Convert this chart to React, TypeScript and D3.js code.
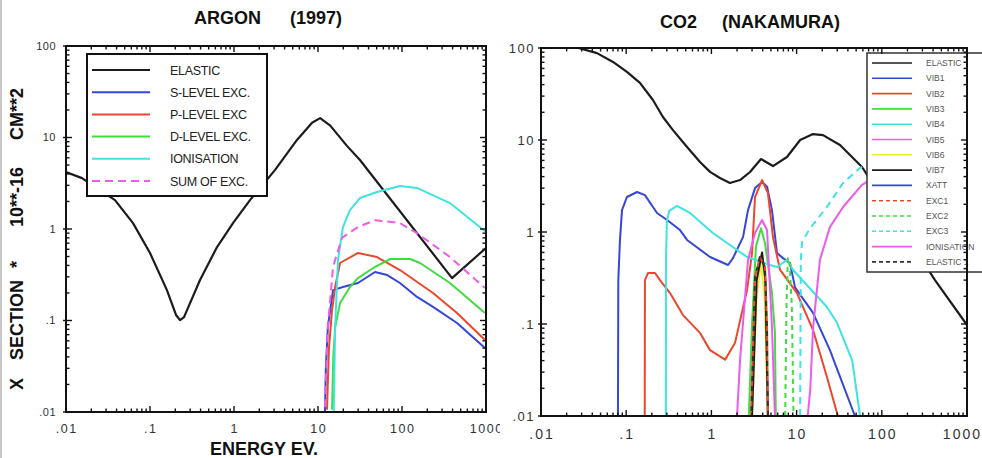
import React from 'react';
import * as d3 from 'd3';

type Pt = [number, number];

// ---------- Tick labels ----------
const xTickValues = [0.01, 0.1, 1, 10, 100, 1000];
const xTickLabels = ['.01', '.1', '1', '10', '100', '1000'];
const yTickValues = [0.01, 0.1, 1, 10, 100];
const yTickLabels = ['.01', '.1', '1', '10', '100'];

// ---------- ARGON (1997) ----------
const arElastic: Pt[] = [[0.01, 4.2], [0.0155, 3.6], [0.0383, 2.07], [0.0628, 1.16], [0.1, 0.547], [0.159, 0.215], [0.204, 0.115], [0.228, 0.101], [0.254, 0.109], [0.394, 0.277], [0.628, 0.635], [0.973, 1.16], [1.55, 2.07], [3.07, 4.4], [5.62, 9.4], [8.5, 14.5], [10.6, 16.3], [14, 13.5], [22.1, 8.1], [31.6, 5.68], [394, 0.291], [1000, 0.62]];
const arSLevel: Pt[] = [[12.1, 0.01], [12.4, 0.03], [13.1, 0.085], [15.1, 0.215], [19.8, 0.232], [29.9, 0.257], [47.8, 0.339], [66.7, 0.314], [94.6, 0.257], [151, 0.181], [234, 0.141], [452, 0.094], [972, 0.05]];
const arPLevel: Pt[] = [[12.8, 0.0106], [13.5, 0.05], [14.7, 0.13], [16.0, 0.232], [18.3, 0.425], [29.9, 0.547], [50.4, 0.494], [94.6, 0.356], [234, 0.2], [452, 0.121], [972, 0.0612]];
const arDLevel: Pt[] = [[14.7, 0.0106], [15.2, 0.04], [16.0, 0.085], [18.3, 0.155], [24.0, 0.232], [29.9, 0.291], [45.4, 0.375], [72.4, 0.47], [125, 0.47], [164, 0.425], [372, 0.257], [972, 0.121]];
const arIonisation: Pt[] = [[15.4, 0.01], [16.0, 0.085], [17.3, 0.458], [19.8, 1.05], [24.0, 1.61], [31.6, 2.18], [50.4, 2.54], [94.6, 2.95], [151, 2.81], [372, 1.92], [1000, 0.927]];
const arSumExc: Pt[] = [[12.1, 0.0113], [13.1, 0.085], [15.1, 0.385], [19.3, 0.8], [29.9, 1.05], [47.8, 1.25], [94.6, 1.16], [151, 0.9], [372, 0.494], [972, 0.226]];

// ---------- CO2 (NAKAMURA) ----------
const co2Elastic: Pt[] = [[0.0275, 100], [0.0454, 88], [0.07, 70.5], [0.102, 55], [0.145, 41.7], [0.206, 27.2], [0.27, 17.8], [0.354, 12.8], [0.518, 8.4], [0.735, 5.77], [0.964, 4.5], [1.26, 3.86], [1.65, 3.41], [2.17, 3.67], [2.84, 4.49], [3.82, 6.21], [5.28, 5.21], [7.71, 6.53], [11.0, 10.0], [15.6, 11.6], [20.4, 11.3], [32.3, 8.83], [58.6, 5.09], [421, 0.3], [1000, 0.0975]];
const co2Vib1: Pt[] = [[0.08, 0.01], [0.0808, 0.3], [0.0845, 0.82], [0.0893, 1.73], [0.102, 2.4], [0.134, 2.72], [0.166, 2.52], [0.23, 1.61], [0.302, 1.35], [0.428, 1.05], [0.518, 0.82], [0.964, 0.535], [1.57, 0.438], [1.79, 0.52], [2.35, 0.88], [2.69, 1.73], [3.25, 3.0], [3.93, 3.5], [4.5, 3.1], [5.14, 1.73], [5.89, 0.59], [6.92, 0.52], [8.37, 0.46], [9.58, 0.25], [15.6, 0.132], [24.6, 0.052], [48.4, 0.01]];
const co2Vib2: Pt[] = [[0.165, 0.01], [0.166, 0.3], [0.18, 0.358], [0.218, 0.358], [0.249, 0.3], [0.327, 0.217], [0.464, 0.125], [0.735, 0.08], [0.964, 0.052], [1.45, 0.041], [1.89, 0.062], [2.62, 0.234], [3.0, 0.59], [3.25, 2.4], [3.93, 3.67], [4.61, 2.65], [5.28, 0.88], [6.38, 0.39], [10.1, 0.217], [15.6, 0.086], [22.7, 0.0265], [30.5, 0.01]];
const co2Vib3: Pt[] = [[2.75, 0.01], [3.0, 0.1], [3.33, 0.69], [3.82, 1.1], [4.26, 0.76], [5.14, 0.217], [5.57, 0.08], [5.7, 0.01]];
const co2Vib4: Pt[] = [[0.292, 0.01], [0.293, 0.5], [0.3, 1.3], [0.32, 1.7], [0.394, 1.92], [0.561, 1.61], [1.04, 0.975], [2.62, 0.535], [4.88, 0.438], [5.89, 0.417], [7.71, 0.497], [9.08, 0.386], [22.7, 0.153], [29.8, 0.103], [45, 0.04], [55.5, 0.01]];
const co2Vib5: Pt[] = [[2.0, 0.01], [2.17, 0.0407], [2.69, 0.497], [3.25, 0.975], [3.93, 1.35], [4.5, 1.05], [5.14, 0.0927], [5.57, 0.01]];
const co2Vib6: Pt[] = [[3.0, 0.01], [3.4, 0.2], [3.82, 0.47], [4.2, 0.2], [4.6, 0.01]];
const co2Vib7: Pt[] = [[3.0, 0.01], [3.4, 0.3], [3.93, 0.6], [4.3, 0.3], [4.6, 0.01]];
const co2Xatt: Pt[] = [[3.8, 0.0012], [4.4, 0.0015], [5.2, 0.0003], [7.5, 0.0004], [8.2, 0.0045], [9.0, 0.0003]];
const co2Exc1: Pt[] = [[2.92, 0.01], [3.25, 0.324], [3.7, 0.535], [4.26, 0.417], [4.5, 0.0927], [4.61, 0.01]];
const co2Exc2: Pt[] = [[7.35, 0.01], [7.6, 0.15], [7.9, 0.52], [8.3, 0.45], [8.8, 0.15], [9.2, 0.01]];
const co2Exc3: Pt[] = [[11.0, 0.01], [11.2, 0.5], [11.6, 0.778], [14.4, 1.1], [22.7, 1.87], [35.1, 3.41], [55.5, 4.97], [70, 5.6]];
const co2Ionisation: Pt[] = [[13.5, 0.01], [14.5, 0.02], [15.6, 0.09], [18.8, 0.5], [24.6, 1.13], [35.1, 1.87], [58.6, 3.25], [70, 3.6]];
const co2Elastic1: Pt[] = [[2.92, 0.01], [3.25, 0.324], [3.7, 0.535], [4.26, 0.417], [4.5, 0.0927], [4.61, 0.01]];

const FONT = '"Liberation Sans", Arial, Helvetica, sans-serif';
const BLACK = '#1c1c1c';
const BLUE = '#3546d8';
const RED = '#e9482c';
const GREEN = '#40dc40';
const CYAN = '#40e2e2';
const MAGENTA = '#ec5cec';
const YELLOW = '#eeee2a';

interface Series {
  name: string;
  data: Pt[];
  color: string;
  dash?: string;
  offset?: number;
  width?: number;
}

const arSeries: Series[] = [
  { name: 'ELASTIC', data: arElastic, color: BLACK, width: 2.2 },
  { name: 'S-LEVEL EXC.', data: arSLevel, color: BLUE },
  { name: 'P-LEVEL EXC', data: arPLevel, color: RED },
  { name: 'D-LEVEL EXC.', data: arDLevel, color: GREEN },
  { name: 'IONISATION', data: arIonisation, color: CYAN },
  { name: 'SUM OF EXC.', data: arSumExc, color: MAGENTA, dash: '8,5' },
];

const co2Series: Series[] = [
  { name: 'ELASTIC', data: co2Elastic, color: BLACK, width: 2.2 },
  { name: 'VIB1', data: co2Vib1, color: BLUE },
  { name: 'VIB2', data: co2Vib2, color: RED },
  { name: 'VIB3', data: co2Vib3, color: GREEN },
  { name: 'VIB4', data: co2Vib4, color: CYAN },
  { name: 'VIB5', data: co2Vib5, color: MAGENTA },
  { name: 'VIB6', data: co2Vib6, color: YELLOW },
  { name: 'VIB7', data: co2Vib7, color: BLACK },
  { name: 'XATT', data: co2Xatt, color: BLUE },
  { name: 'EXC1', data: co2Exc1, color: RED, dash: '5,5' },
  { name: 'EXC2', data: co2Exc2, color: GREEN, dash: '5,4' },
  { name: 'EXC3', data: co2Exc3, color: CYAN, dash: '7,5' },
  { name: 'IONISATION', data: co2Ionisation, color: MAGENTA },
  { name: 'ELASTIC 1', data: co2Elastic1, color: '#333', dash: '5,5', offset: 5 },
];

interface PanelProps {
  id: string;
  left: number;
  right: number;
  top: number;
  bottom: number;
  series: Series[];
  yLabelFont: number;
  yLabelEnd: number;
  yLabelSpacing: number;
  xLabelFont: number;
  xLabelBase: number;
  xLabelSpacing: number;
  lastLabelEnd?: number;
  legend: React.ReactNode;
}

function Panel(p: PanelProps) {
  const x = d3.scaleLog().domain([0.01, 1000]).range([p.left, p.right]);
  const y = d3.scaleLog().domain([0.01, 100]).range([p.bottom, p.top]);
  const line = d3
    .line<Pt>()
    .x((d) => x(d[0]))
    .y((d) => y(Math.max(d[1], 1e-5)));

  const xt = x.ticks();
  const yt = y.ticks();
  const isMajor = (v: number) => Math.abs(Math.log10(v) - Math.round(Math.log10(v))) < 1e-6;
  const MAJ = 6;
  const MIN = 3.5;

  const tickLines: React.ReactNode[] = [];
  xt.forEach((v, i) => {
    const len = isMajor(v) ? MAJ : MIN;
    const px = x(v);
    tickLines.push(<line key={'xb' + i} x1={px} x2={px} y1={p.bottom} y2={p.bottom - len} />);
    tickLines.push(<line key={'xt' + i} x1={px} x2={px} y1={p.top} y2={p.top + len} />);
  });
  yt.forEach((v, i) => {
    const len = isMajor(v) ? MAJ : MIN;
    const py = y(v);
    tickLines.push(<line key={'yl' + i} x1={p.left - (isMajor(v) ? 3 : 0)} x2={p.left + len} y1={py} y2={py} />);
    tickLines.push(<line key={'yr' + i} x1={p.right} x2={p.right - len} y1={py} y2={py} />);
  });

  return (
    <g>
      <defs>
        <clipPath id={p.id + '-clip'}>
          <rect x={p.left} y={p.top} width={p.right - p.left} height={p.bottom - p.top} />
        </clipPath>
      </defs>
      <g clipPath={`url(#${p.id}-clip)`}>
        {p.series.map((s) => (
          <path
            key={s.name}
            d={line(s.data) || ''}
            fill="none"
            stroke={s.color}
            strokeWidth={s.width ?? 2}
            strokeDasharray={s.dash}
            strokeDashoffset={s.offset}
            strokeLinejoin="round"
          />
        ))}
      </g>
      {p.legend}
      <g stroke="#111" strokeWidth={1.4}>{tickLines}</g>
      <rect x={p.left} y={p.top} width={p.right - p.left} height={p.bottom - p.top} fill="none" stroke="#111" strokeWidth={2} />
      <g fontFamily={FONT} fill="#333">
        {yTickValues.map((v, i) => (
          <text key={'yl' + i} x={p.yLabelEnd} y={y(v) + p.yLabelFont * 0.36} fontSize={p.yLabelFont} textAnchor="end" letterSpacing={p.yLabelSpacing}>
            {yTickLabels[i]}
          </text>
        ))}
        {xTickValues.map((v, i) => {
          const last = i === xTickValues.length - 1 && p.lastLabelEnd !== undefined;
          return (
            <text
              key={'xl' + i}
              x={last ? (p.lastLabelEnd as number) : x(v) + p.xLabelSpacing / 2}
              y={p.xLabelBase}
              fontSize={p.xLabelFont}
              textAnchor={last ? 'end' : 'middle'}
              letterSpacing={p.xLabelSpacing}
            >
              {xTickLabels[i]}
            </text>
          );
        })}
      </g>
    </g>
  );
}

function LeftLegend() {
  const x0 = 87, y0 = 54, w = 180, h = 142;
  return (
    <g>
      <rect x={x0} y={y0} width={w} height={h} fill="#fff" stroke="#111" strokeWidth={2} />
      {arSeries.map((s, i) => {
        const cy = 70 + i * 22.2;
        return (
          <g key={s.name}>
            <line x1={92} x2={150} y1={cy} y2={cy} stroke={s.color} strokeWidth={2} strokeDasharray={s.dash} />
            <text x={170} y={cy + 4.5} fontFamily={FONT} fontSize={12.5} fill="#222" letterSpacing={-0.3}>
              {s.name}
            </text>
          </g>
        );
      })}
    </g>
  );
}

function RightLegend() {
  const x0 = 867, y0 = 53, w = 130, h = 219;
  return (
    <g>
      <rect x={x0} y={y0} width={w} height={h} fill="#fff" stroke="#333" strokeWidth={1.5} />
      {co2Series.map((s, i) => {
        const cy = 63 + i * 15.3;
        return (
          <g key={s.name}>
            <line x1={872} x2={912} y1={cy} y2={cy} stroke={s.color} strokeWidth={1.6} strokeDasharray={s.dash ? '4,3' : undefined} />
            <text x={926} y={cy + 3} fontFamily={FONT} fontSize={8.5} fill="#555">
              {s.name}
            </text>
          </g>
        );
      })}
    </g>
  );
}

export default function App() {
  return (
    <svg width={982} height={458} style={{ position: 'absolute', left: 0, top: 0, background: '#fff' }}>
      <rect x={0} y={0} width={982} height={458} fill="#fff" />
      <line x1={1} x2={1} y1={0} y2={458} stroke="#c8c8c8" strokeWidth={2} />
      <defs>
        <clipPath id="leftPanelClip">
          <rect x={0} y={0} width={500} height={458} />
        </clipPath>
      </defs>
      <g clipPath="url(#leftPanelClip)">
        <Panel
          id="ar"
          left={66}
          right={486}
          top={46}
          bottom={412}
          series={arSeries}
          yLabelFont={11}
          yLabelEnd={56}
          yLabelSpacing={0.5}
          xLabelFont={12.5}
          xLabelBase={433}
          xLabelSpacing={1.5}
          legend={<LeftLegend />}
        />
      </g>
      <Panel
        id="co2"
        left={541}
        right={967}
        top={48}
        bottom={416}
        series={co2Series}
        yLabelFont={13}
        yLabelEnd={535}
        yLabelSpacing={1.5}
        xLabelFont={14}
        xLabelBase={439}
        xLabelSpacing={2}
        lastLabelEnd={982}
        legend={<RightLegend />}
      />
      <g fontFamily={FONT} fontWeight="bold" fill="#111" fontSize={18}>
        <text x={194} y={24}>ARGON</text>
        <text x={290} y={24}>(1997)</text>
        <text x={660} y={28}>CO2</text>
        <text x={722} y={28}>(NAKAMURA)</text>
        <text x={264} y={455} textAnchor="middle">ENERGY EV.</text>
        <text transform="rotate(-90)" y={23}>
          <tspan x={-390}>X</tspan>
          <tspan x={-360}>SECTION</tspan>
          <tspan x={-268}>*</tspan>
          <tspan x={-227}>10**-16</tspan>
          <tspan x={-140}>CM**2</tspan>
        </text>
      </g>
    </svg>
  );
}
